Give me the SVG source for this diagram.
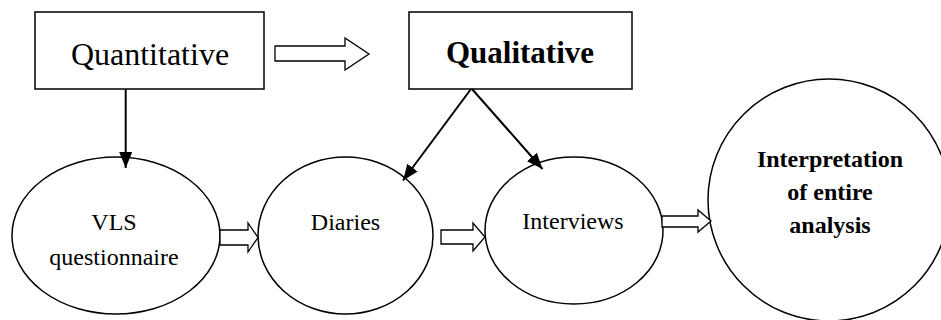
<svg xmlns="http://www.w3.org/2000/svg" width="941" height="320" viewBox="0 0 941 320">
<style>
.box{fill:#fff;stroke:#000;stroke-width:1.5}
.node{fill:#fff;stroke:#000;stroke-width:1.5}
.blk{fill:#fff;stroke:#000;stroke-width:1.3;stroke-linejoin:miter}
.ln{fill:none;stroke:#000;stroke-width:2}
text{fill:#000;text-anchor:middle}
</style>
<defs>
<marker id="ah" markerUnits="userSpaceOnUse" markerWidth="17" markerHeight="14" refX="16" refY="6.5" orient="auto" viewBox="0 0 17 14">
<path d="M0,0 L16,6.5 L0,13 z" fill="#000"/>
</marker>
</defs>
<g font-family="'Liberation Serif', 'Times New Roman', 'DejaVu Serif', serif">
<g id="quantitative">
<rect class="box" x="35" y="12" width="229" height="77"/>
<text x="150" y="65" font-size="32">Quantitative</text>
</g>
<g id="qualitative">
<rect class="box" x="409" y="12" width="223" height="77"/>
<text x="520" y="63" font-size="31" font-weight="bold">Qualitative</text>
</g>
<g id="vls">
<ellipse class="node" cx="116" cy="235.5" rx="104" ry="78.5"/>
<text x="114" y="230" font-size="24">VLS</text>
<text x="114" y="265" font-size="24">questionnaire</text>
</g>
<g id="diaries">
<ellipse class="node" cx="345.5" cy="235.5" rx="87.5" ry="78.5"/>
<text x="345.5" y="230" font-size="24">Diaries</text>
</g>
<g id="interviews">
<ellipse class="node" cx="574" cy="230.5" rx="89" ry="73.5"/>
<text x="573" y="229" font-size="24">Interviews</text>
</g>
<g id="interpretation">
<circle class="node" cx="829" cy="200" r="121"/>
<text x="830" y="167" font-size="24" font-weight="bold">Interpretation</text>
<text x="830" y="200" font-size="24" font-weight="bold">of entire</text>
<text x="830" y="233" font-size="24" font-weight="bold">analysis</text>
</g>
</g>
<g id="connectors">
<path class="blk" d="M275,46 H345 V38 L369,54 L345,70 V61 H275 Z"/>
<line class="ln" x1="125.7" y1="89" x2="125.7" y2="168" marker-end="url(#ah)"/>
<line class="ln" x1="471" y1="89" x2="403" y2="180.5" marker-end="url(#ah)"/>
<line class="ln" x1="472" y1="89" x2="542.5" y2="169" marker-end="url(#ah)"/>
<path class="blk" d="M220,230 H248 V223 L258,237.5 L248,252 V245 H220 Z"/>
<path class="blk" d="M441,230 H473 V223 L485,237 L473,251 V244 H441 Z"/>
<path class="blk" d="M662,216 H698 V210 L711,221 L698,232 V227 H662 Z"/>
</g>
</svg>
